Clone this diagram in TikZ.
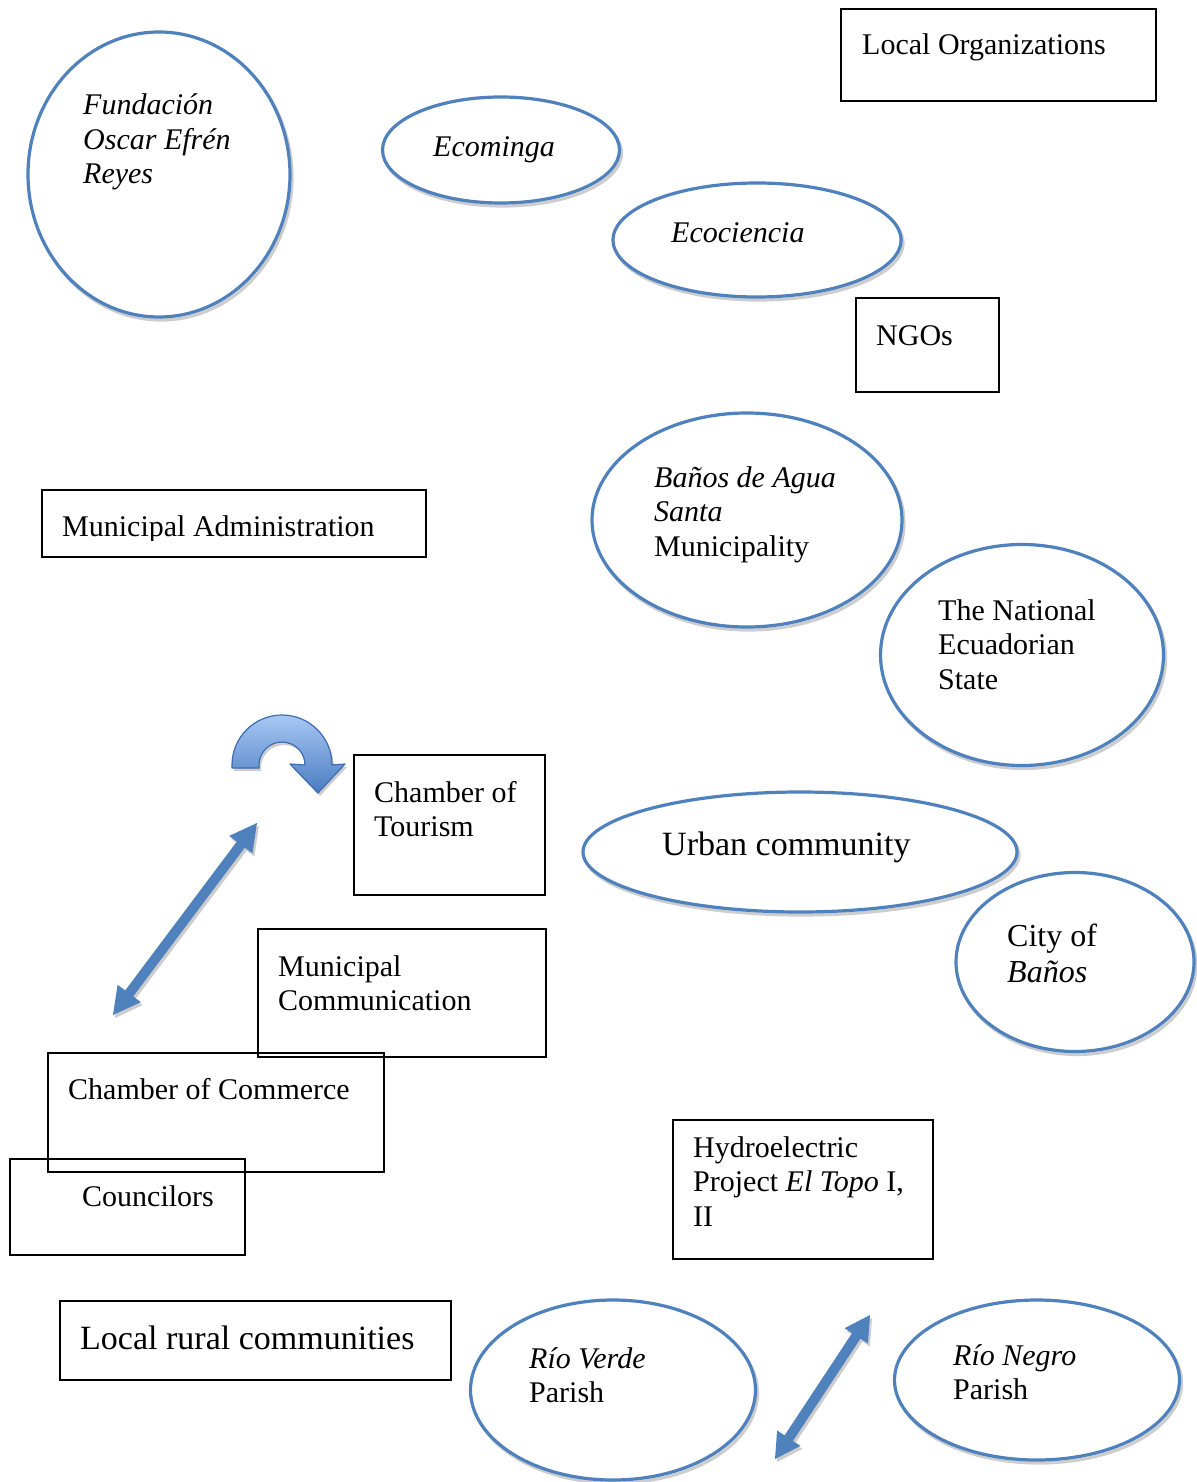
\documentclass[tikz,border=0pt]{standalone}
\usepackage{fontspec}
\setmainfont{Liberation Serif}
\usetikzlibrary{shapes.geometric,calc,shadows}
\definecolor{eblue}{RGB}{79,129,189}
\definecolor{shgray}{RGB}{205,205,205}
\definecolor{arrlight}{RGB}{167,200,245}
\definecolor{arrdark}{RGB}{74,124,192}
\definecolor{arrline}{RGB}{61,109,176}
\newcommand{\blockdbl}[5][]{%
  \path ($(#2)!#4!(#3)$) coordinate (p1) ($(#3)!#4!(#2)$) coordinate (p2);
  \fill[#1] (#2) -- ($(p1)!#5!90:(#3)$) -- ($(p1)!5pt!90:(#3)$) -- ($(p2)!5pt!-90:(#2)$)
     -- ($(p2)!#5!-90:(#2)$) -- (#3) -- ($(p2)!#5!90:(#2)$) -- ($(p2)!5pt!90:(#2)$)
     -- ($(p1)!5pt!-90:(#3)$) -- ($(p1)!#5!-90:(#3)$) -- cycle;}
\tikzset{
  elli/.style={ellipse, draw=eblue, fill=white, line width=3.2pt, inner sep=0pt,
     drop shadow={shadow xshift=2pt, shadow yshift=-3pt, opacity=1, fill=none, draw=shgray, line width=3.2pt}},
  boxn/.style={rectangle, draw=black, line width=1.8pt, anchor=north west, inner sep=0pt},
  lbl/.style={anchor=base west, inner sep=0pt, font=\fontsize{30}{34.5}\selectfont},
  lblbig/.style={anchor=base west, inner sep=0pt, font=\fontsize{34}{38}\selectfont},
  lblmid/.style={anchor=base west, inner sep=0pt, font=\fontsize{32}{36}\selectfont},
  arrshadow/.style={fill=shgray, transform canvas={xshift=2pt, yshift=-3pt}},
  arrfill/.style={fill=eblue}
}
\begin{document}
\begin{tikzpicture}[x=1pt, y=-1pt]
\useasboundingbox (0,0) rectangle (1196,1482);

% ellipses
\node[elli, minimum width=262pt, minimum height=285pt] (fundE) at (159,174.5) {};
\node[elli, minimum width=237pt, minimum height=106pt] (ecomE) at (501,150) {};
\node[elli, minimum width=288pt, minimum height=114pt] (ecocE) at (757,240) {};
\node[elli, minimum width=310pt, minimum height=214pt] (banosE) at (747,520) {};
\node[elli, minimum width=283pt, minimum height=221pt] (natE) at (1022,655) {};
\node[elli, minimum width=434pt, minimum height=120pt] (urbE) at (800,852) {};
\node[elli, minimum width=238pt, minimum height=179pt] (cityE) at (1075,962) {};
\node[elli, minimum width=285pt, minimum height=180pt] (rvE) at (613,1390) {};
\node[elli, minimum width=285pt, minimum height=160pt] (rnE) at (1037,1380) {};

% boxes
\node[boxn, minimum width=315pt, minimum height=92pt] (locB) at (840,8) {};
\node[boxn, minimum width=143pt, minimum height=94pt] (ngoB) at (855,297) {};
\node[boxn, minimum width=384pt, minimum height=67pt] (madmB) at (41,489) {};
\node[boxn, minimum width=191pt, minimum height=140pt] (tourB) at (353,754) {};
\node[boxn, minimum width=288pt, minimum height=128pt] (mcomB) at (257,928) {};
\node[boxn, minimum width=336pt, minimum height=119pt] (commB) at (47,1052) {};
\node[boxn, minimum width=235pt, minimum height=96pt] (counB) at (9,1158) {};
\node[boxn, minimum width=260pt, minimum height=139pt] (hydB) at (672,1119) {};
\node[boxn, minimum width=391pt, minimum height=79pt] (ruralB) at (59,1300) {};

% texts
\node[lbl] (fundT) at (83,115) {\begin{tabular}[t]{@{}l@{}}\textit{Fundación}\\\textit{Oscar Efrén}\\\textit{Reyes}\end{tabular}};
\node[lbl] (ecomT) at (433,157) {\textit{Ecominga}};
\node[lbl] (ecocT) at (671,242) {\textit{Ecociencia}};
\node[lbl] (locT) at (862,55) {Local Organizations};
\node[lbl] (ngoT) at (876,345) {NGOs};
\begin{scope}
\clip (41,489) rectangle (425,540);
\node[lbl] (madmT) at (62,536) {Municipal Administration};
\end{scope}
\node[lbl] (banosT) at (654,487) {\begin{tabular}[t]{@{}l@{}}\textit{Baños de Agua}\\\textit{Santa}\\Municipality\end{tabular}};
\node[lbl] (natT) at (938,620) {\begin{tabular}[t]{@{}l@{}}The National\\Ecuadorian\\State\end{tabular}};
\node[lbl] (tourT) at (374,802) {\begin{tabular}[t]{@{}l@{}}Chamber of\\Tourism\end{tabular}};
\node[lblbig] (urbT) at (662,855) {Urban community};
\node[lblmid] (cityT) at (1007,946) {\begin{tabular}[t]{@{}l@{}}City of\\\textit{Baños}\end{tabular}};
\node[lbl] (mcomT) at (278,976) {\begin{tabular}[t]{@{}l@{}}Municipal\\Communication\end{tabular}};
\node[lbl] (commT) at (68,1099) {Chamber of Commerce};
\node[lbl] (counT) at (82,1206) {Councilors};
\node[lbl] (hydT) at (693,1157) {\begin{tabular}[t]{@{}l@{}}Hydroelectric\\Project \textit{El Topo} I,\\II\end{tabular}};
\node[lblbig] (ruralT) at (80,1349) {Local rural communities};
\node[lbl] (rvT) at (529,1368) {\begin{tabular}[t]{@{}l@{}}\textit{Río Verde}\\Parish\end{tabular}};
\node[lbl] (rnT) at (953,1365) {\begin{tabular}[t]{@{}l@{}}\textit{Río Negro}\\Parish\end{tabular}};

% double block arrows
\coordinate (a1t) at (113,1015);
\coordinate (a1h) at (257,823);
\coordinate (a2t) at (775,1459);
\coordinate (a2h) at (870,1315);
\blockdbl[arrshadow]{a1t}{a1h}{27pt}{14.5pt}
\blockdbl[arrfill]{a1t}{a1h}{27pt}{14.5pt}
\blockdbl[arrshadow]{a2t}{a2h}{25pt}{14pt}
\blockdbl[arrfill]{a2t}{a2h}{25pt}{14pt}

% curved arrow
\coordinate (cc) at (282,765);
\fill[shgray, transform canvas={xshift=2pt, yshift=-3pt}]
  (232,768) -- (232,765) arc[start angle=180, end angle=0, radius=50pt]
  -- (345,764) -- (318,793) -- (290,764) -- (305,765)
  arc[start angle=0, end angle=180, radius=23pt] -- (259,768) -- cycle;
\draw[arrline, line width=1.2pt, top color=arrlight, bottom color=arrdark, line join=round]
  (232,768) -- (232,765) arc[start angle=180, end angle=0, radius=50pt]
  -- (345,764) -- (318,793) -- (290,764) -- (305,765)
  arc[start angle=0, end angle=180, radius=23pt] -- (259,768) -- cycle;
\end{tikzpicture}
\end{document}
